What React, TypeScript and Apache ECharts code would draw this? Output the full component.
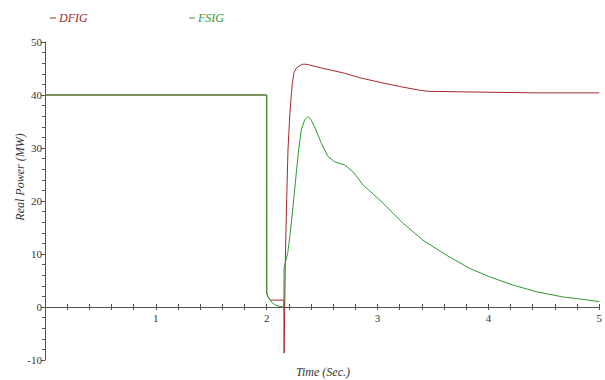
import React, { useEffect, useRef } from "react";
import * as echarts from "echarts";

const seriesNames = ["DFIG", "FSIG"];
const xTickLabels = ["1", "2", "3", "4", "5"];

const dfigTime = [0, 2.0, 2.0, 2.01, 2.03, 2.155, 2.157, 2.168, 2.18, 2.192, 2.205, 2.216, 2.23, 2.246, 2.265, 2.282, 2.32, 2.358, 2.42, 2.493, 2.6, 2.703, 2.85, 3.02, 3.2, 3.38, 3.45, 3.74, 4.43, 5.0];
const dfigPower = [40, 40, 2.6, 2.0, 1.3, 1.3, -8.7, 8.9, 20, 29.6, 35, 38.5, 42, 44.2, 45, 45.3, 45.8, 45.8, 45.5, 45.1, 44.6, 44.1, 43.2, 42.4, 41.6, 40.9, 40.7, 40.6, 40.4, 40.4];

const fsigTime = [0, 2.0, 2.0, 2.02, 2.05, 2.08, 2.12, 2.155, 2.157, 2.17, 2.19, 2.21, 2.237, 2.267, 2.29, 2.312, 2.342, 2.37, 2.395, 2.432, 2.493, 2.553, 2.613, 2.703, 2.78, 2.87, 3.02, 3.23, 3.41, 3.62, 3.83, 4.01, 4.22, 4.43, 4.67, 4.85, 5.0];
const fsigPower = [40, 40, 2.6, 1.6, 0.8, 0.35, 0.1, 0, 7.3, 8.5, 10.2, 13.5, 18.9, 25.3, 30, 33.4, 35.3, 35.9, 35.5, 34.0, 30.9, 28.4, 27.4, 26.8, 25.5, 23.0, 20.2, 15.8, 12.6, 9.8, 7.3, 5.7, 4.15, 2.9, 1.9, 1.45, 1.0];

const RED = "#a3282c";
const GREEN = "#2f9a2f";
const SERIF = "'Liberation Serif', 'DejaVu Serif', serif";

export default function App() {
  const ref = useRef<HTMLDivElement>(null);
  useEffect(() => {
    if (!ref.current) return;
    const chart = echarts.init(ref.current, undefined, { renderer: "svg" });
    const pairs = (t: number[], v: number[]) => t.map((x, i) => [x, v[i]]);
    const gridTop = 42;
    const gridBottom = 20;
    const yMin = -10;
    const yMax = 50;
    const gridHeight = 380 - gridTop - gridBottom;
    const zeroOffset = -gridHeight * (0 - yMin) / (yMax - yMin);
    chart.setOption({
      animation: false,
      backgroundColor: "#ffffff",
      grid: { left: 45, right: 5, top: gridTop, bottom: gridBottom, containLabel: false },
      legend: [
        {
          left: 45,
          top: 7,
          data: [{ name: seriesNames[0], textStyle: { color: RED } }],
          icon: "rect",
          itemWidth: 6,
          itemHeight: 1,
          itemGap: 4,
          textStyle: { fontFamily: SERIF, fontStyle: "italic", fontSize: 12, padding: [0, 0, 0, -2] },
        },
        {
          left: 184,
          top: 7,
          data: [{ name: seriesNames[1], textStyle: { color: GREEN } }],
          icon: "rect",
          itemWidth: 6,
          itemHeight: 1,
          textStyle: { fontFamily: SERIF, fontStyle: "italic", fontSize: 12, padding: [0, 0, 0, -2] },
        },
      ],
      xAxis: [
        {
          type: "value",
          min: 0,
          max: 5,
          interval: 1,
          position: "bottom",
          offset: zeroOffset,
          axisLine: { show: true, onZero: false, lineStyle: { color: "#555", width: 1 } },
          axisTick: { show: true, length: 3, lineStyle: { color: "#555" } },
          minorTick: { show: true, splitNumber: 5, length: 3, lineStyle: { color: "#555" } },
          splitLine: { show: false },
          axisLabel: {
            fontFamily: SERIF,
            fontSize: 11,
            color: "#333",
            margin: 5,
            formatter: (v: number) => {
              const i = Math.round(v) - 1;
              return i >= 0 && i < xTickLabels.length ? xTickLabels[i] : "";
            },
          },
        },
        {
          type: "value",
          min: 0,
          max: 5,
          interval: 1,
          position: "bottom",
          offset: zeroOffset,
          axisLine: { show: false, onZero: false },
          axisTick: { show: true, inside: true, length: 3, lineStyle: { color: "#555" } },
          minorTick: { show: true, splitNumber: 5, length: 3, lineStyle: { color: "#555" } },
          axisLabel: { show: false },
          splitLine: { show: false },
        },
      ],
      yAxis: [
        {
          type: "value",
          min: yMin,
          max: yMax,
          interval: 10,
          axisLine: { show: true, onZero: false, lineStyle: { color: "#555", width: 1 } },
          axisTick: { show: true, length: 4, lineStyle: { color: "#555" } },
          minorTick: { show: true, splitNumber: 5, length: 3, lineStyle: { color: "#555" } },
          splitLine: { show: false },
          axisLabel: { fontFamily: SERIF, fontSize: 11, color: "#333", margin: 3 },
        },
      ],
      graphic: [
        {
          type: "text",
          x: 20,
          y: 177,
          rotation: Math.PI / 2,
          style: {
            text: "Real Power (MW)",
            fontFamily: SERIF,
            fontStyle: "italic",
            fontSize: 12,
            fill: "#333",
            textAlign: "center",
            textVerticalAlign: "middle",
          },
        },
        {
          type: "text",
          x: 323,
          y: 372,
          style: {
            text: "Time (Sec.)",
            fontFamily: SERIF,
            fontStyle: "italic",
            fontSize: 12,
            fill: "#333",
            textAlign: "center",
            textVerticalAlign: "middle",
          },
        },
      ],
      series: [
        {
          name: seriesNames[0],
          type: "line",
          data: pairs(dfigTime, dfigPower),
          showSymbol: false,
          symbol: "none",
          lineStyle: { color: RED, width: 1 },
          itemStyle: { color: RED },
          z: 2,
        },
        {
          name: seriesNames[1],
          type: "line",
          data: pairs(fsigTime, fsigPower),
          showSymbol: false,
          symbol: "none",
          lineStyle: { color: GREEN, width: 1 },
          itemStyle: { color: GREEN },
          z: 3,
        },
      ],
    });
    return () => chart.dispose();
  }, []);
  return <div ref={ref} style={{ width: 605, height: 380, position: "absolute", left: 0, top: 0 }} />;
}
